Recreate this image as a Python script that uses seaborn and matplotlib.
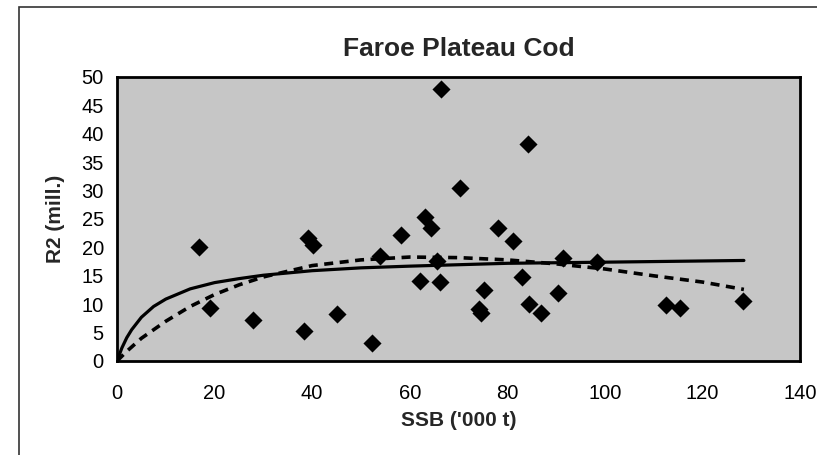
import matplotlib
matplotlib.use("Agg")
import matplotlib.pyplot as plt
from matplotlib.patches import Rectangle
import pandas as pd
import seaborn as sns

# observed stock / recruitment pairs
ssb = [16.9, 19.1, 27.8, 38.3, 39.2, 40.2, 45.0, 52.3, 54.0, 58.3,
       62.1, 63.1, 64.3, 65.5, 66.3, 66.5, 70.3, 74.2, 74.6, 75.2,
       78.0, 81.1, 83.1, 84.2, 84.5, 86.9, 90.3, 91.5, 98.4, 112.5,
       115.5, 128.3]
rec = [20.1, 9.3, 7.3, 5.2, 21.6, 20.4, 8.2, 3.1, 18.5, 22.2,
       14.0, 25.3, 23.4, 17.6, 13.9, 47.8, 30.4, 9.1, 8.4, 12.5,
       23.5, 21.2, 14.8, 38.2, 10.0, 8.5, 11.9, 18.1, 17.4, 9.8,
       9.3, 10.6]

# fitted curve, solid
bh_ssb = [0, 1, 2, 3, 5, 7.5, 10, 15, 20, 25, 30, 40, 50, 60, 80, 100, 128.5]
bh_rec = [0, 2.3, 4.1, 5.5, 7.7, 9.6, 10.9, 12.7, 13.8, 14.5, 15.1, 15.9,
          16.4, 16.7, 17.2, 17.4, 17.7]

# fitted curve, dashed
rk_ssb = [0, 2, 5, 10, 15, 20, 25, 30, 40, 50, 60, 70, 80, 90, 100, 110, 120, 128.5]
rk_rec = [0, 1.7, 4.0, 7.0, 9.6, 11.7, 13.4, 14.8, 16.8, 17.8, 18.3, 18.2,
          17.8, 17.1, 16.2, 15.0, 13.9, 12.6]

obs = pd.DataFrame({"ssb": ssb, "rec": rec})
bh = pd.DataFrame({"ssb": bh_ssb, "rec": bh_rec})
rk = pd.DataFrame({"ssb": rk_ssb, "rec": rk_rec})

sns.set_style("white")
plt.rcParams["font.family"] = ["Liberation Sans", "DejaVu Sans"]

fig = plt.figure(figsize=(8.17, 4.55), dpi=100)
ax = fig.add_axes([117 / 817, 1 - 361 / 455, 683 / 817, 284 / 455])
ax.set_facecolor("#c6c6c6")

sns.lineplot(data=bh, x="ssb", y="rec", ax=ax, color="black", lw=2.3,
             sort=False, zorder=3)
sns.lineplot(data=rk, x="ssb", y="rec", ax=ax, color="black", lw=2.6,
             sort=False, zorder=3, linestyle=(0, (2.5, 1.8)))
sns.scatterplot(data=obs, x="ssb", y="rec", ax=ax, marker="D", s=85,
                color="black", linewidth=0, zorder=4)

ax.set_xlim(0, 140)
ax.set_ylim(0, 50)
ax.set_xticks(range(0, 141, 20))
ax.set_yticks(range(0, 51, 5))
ax.tick_params(axis="both", direction="inout", length=9, width=1.2,
               labelsize=14.5, colors="black")
ax.tick_params(axis="x", pad=12)
ax.tick_params(axis="y", pad=5)
for sp in ax.spines.values():
    sp.set_linewidth(2)
    sp.set_color("black")

ax.set_xlabel("SSB ('000 t)", fontsize=15, fontweight="bold", labelpad=6)
ax.set_ylabel("R2 (mill.)", fontsize=15, fontweight="bold", labelpad=12)
ax.set_title("Faroe Plateau Cod", fontsize=19, fontweight="bold", pad=15)

# outer chart frame (cut off at right and bottom)
fig.patches.append(Rectangle((19 / 817, -0.05), 1.1, 1 - 7 / 455 + 0.05,
                             transform=fig.transFigure, fill=False,
                             edgecolor="#333333", linewidth=1.2))

fig.savefig("out.png", dpi=100)
